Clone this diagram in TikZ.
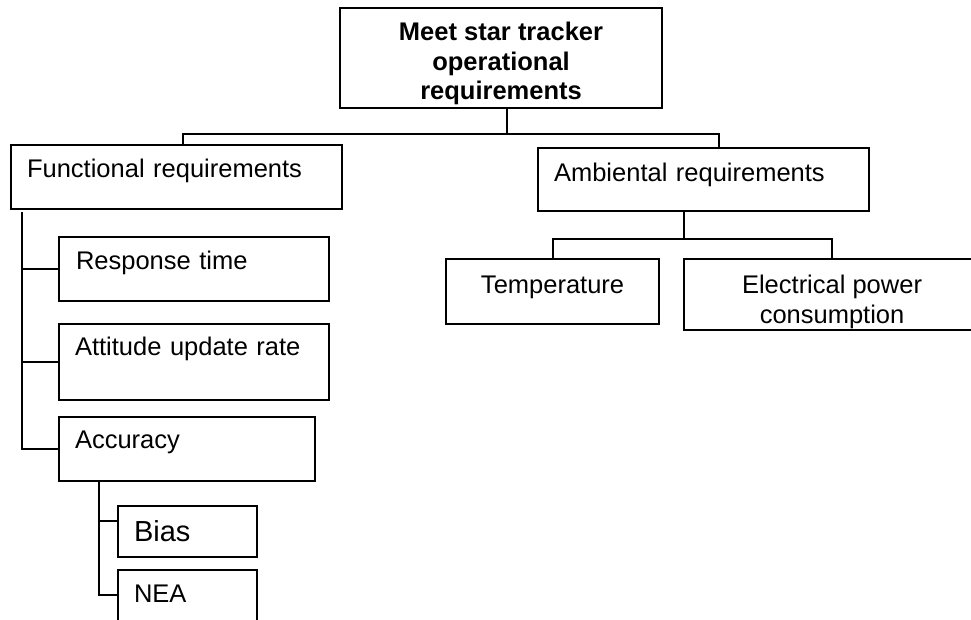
\documentclass[tikz,border=0pt]{standalone}
\usepackage{fontspec}
\setmainfont{Liberation Sans}
\usepackage{tikz}
\usetikzlibrary{calc,positioning}

\begin{document}
\begin{tikzpicture}[x=1pt,y=-1pt,
	req/.style={draw, line width=2.1pt, inner ysep=0pt, anchor=north west, font=\fontsize{25.5}{30}\selectfont},
	reqleft/.style={req, align=left, inner xsep=16pt},
	reqmid/.style={req, align=center, inner xsep=0pt}]
	\clip (0,0) rectangle (971,619);
	\fill[white] (0,0) rectangle (971,619);

	\node(root) [reqmid, minimum width=322, text height=91.5, text depth=8.5, font=\fontsize{25.5}{29.5}\selectfont\bfseries] at (339,7) {Meet star tracker\\operational\\requirements};
	\node(func) [reqleft, text width=298.5, text height=32.7, text depth=30.8] at (10,144) {Functional requirements};
	\node(amb) [reqleft, text width=298.5, text height=33, text depth=30] at (537,147) {Ambiental requirements};
	\node(resp) [reqleft, text width=236, text height=32, text depth=32, inner xsep=17pt] at (58,236) {Response time};
	\node(att) [reqleft, text width=238, text height=31, text depth=45] at (58,323) {Attitude update rate};
	\node(acc) [reqleft, text width=223.5, text height=31, text depth=33] at (58,416) {Accuracy};
	\node(bias) [reqleft, text width=107, text height=35.7, text depth=14.8, font=\fontsize{29}{34}\selectfont] at (117,505) {Bias};
	\node(nea) [reqleft, text width=107, text height=32.7, text depth=38] at (117,569) {NEA};
	\node(temp) [reqmid, minimum width=213, text height=34, text depth=31] at (445,258) {Temperature};
	\node(elec) [reqmid, minimum width=296, text height=64, text depth=7] at (683,258) {Electrical power\\consumption};

	\begin{scope}[line width=2.1pt]
	% top level
	\coordinate (rbus) at ([xshift=6, yshift=-24.5]root.south);
	\draw ([xshift=6]root.south) -- (rbus);
	\draw ([xshift=173]func.north west) |- (rbus) -| ([xshift=182]amb.north west);
	% functional branch
	\coordinate (fspine) at ([xshift=12, yshift=-2.5]func.south west);
	\draw (fspine) |- (acc.west);
	\draw (resp.west) -- (resp.west -| fspine);
	\draw (att.west) -- (att.west -| fspine);
	% accuracy branch
	\coordinate (aspine) at ([xshift=41]acc.south west);
	\draw (aspine) |- ([yshift=-26]nea.north west);
	\draw ([yshift=-16]bias.north west) -- ([yshift=-16]bias.north west -| aspine);
	% ambiental branch
	\coordinate (abus) at ([xshift=147, yshift=-26.5]amb.south west);
	\draw ([xshift=147]amb.south west) -- (abus);
	\draw (temp.north) |- (abus) -| (elec.north);
	\end{scope}
\end{tikzpicture}
\end{document}
